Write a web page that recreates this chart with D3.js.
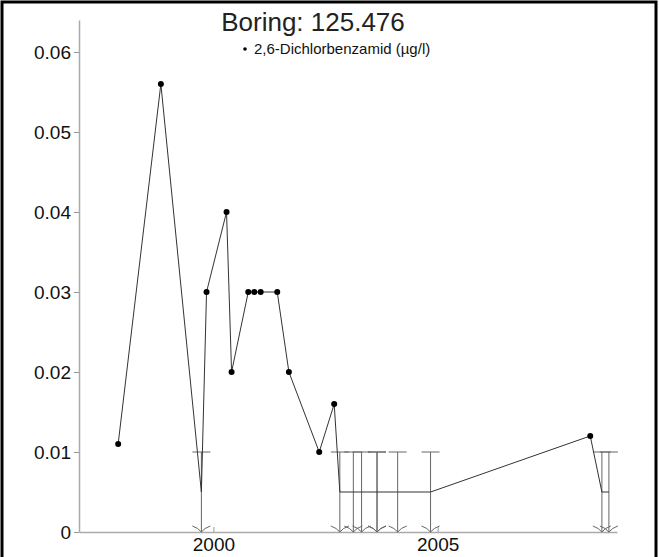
<!DOCTYPE html>
<html>
<head>
<meta charset="utf-8">
<script src="https://cdn.jsdelivr.net/npm/d3@7"></script>
<style>
body{margin:0;background:#fff;}
text{font-family:"Liberation Sans",Arial,sans-serif;}
</style>
</head>
<body>
<script>
// samples, in date order
var sampleDates=['1997-11-16','1998-10-30','1999-09-25','1999-11-06','2000-04-17','2000-05-28',
    '2000-10-11','2000-11-29','2001-01-20','2001-06-04','2001-09-07','2002-05-12','2002-09-11',
    '2002-10-27','2003-02-14','2003-04-22','2003-08-26','2003-08-26','2004-02-10','2004-11-04',
    '2008-05-28','2008-08-31','2008-10-27'];
var sampleValues=[0.011,0.056,null,0.03,0.04,0.02,
    0.03,0.03,0.03,0.03,0.02,0.01,0.016,
    null,null,null,null,null,null,null,
    0.012,null,null];
// null = below detection limit
var detectionLimit=0.01;
var yTicks=[0,0.01,0.02,0.03,0.04,0.05,0.06];
var yTickLabels=['0','0.01','0.02','0.03','0.04','0.05','0.06'];
var xTickYears=[2000,2005];
var titleText='Boring: 125.476';
var legendText='2,6-Dichlorbenzamid (\u00b5g/l)';

var width=659,height=557;
var parse=d3.timeParse('%Y-%m-%d');

var samples=sampleDates.map(function(d,i){
    return {date:parse(d),value:sampleValues[i],below:sampleValues[i]===null};
});

var svg=d3.select('body').append('svg')
    .attr('width',width)
    .attr('height',height);

svg.append('rect')
    .attr('x',2).attr('y',2)
    .attr('width',654).attr('height',620)
    .style('fill','none')
    .style('stroke','#000')
    .style('stroke-width',3);

var xScale=d3.scaleTime()
    .domain([new Date(1997,0,1),new Date(2009,0,1)])
    .range([79,617]);
var yScale=d3.scaleLinear()
    .domain([0,0.064])
    .range([532,20]);

// axes
var yAxis=d3.axisLeft(yScale)
    .tickValues(yTicks)
    .tickFormat(function(d,i){return yTickLabels[i];})
    .tickSize(5)
    .tickPadding(3)
    .tickSizeOuter(0);
var gy=svg.append('g').attr('transform','translate(79,0)').call(yAxis);

var xAxis=d3.axisBottom(xScale)
    .tickValues(xTickYears.map(function(y){return new Date(y,0,1);}))
    .tickFormat(d3.timeFormat('%Y'))
    .tickSize(-5)
    .tickPadding(8)
    .tickSizeOuter(0);
var gx=svg.append('g').attr('transform','translate(0,532)').call(xAxis);

[gx,gy].forEach(function(g){
    g.select('.domain').style('stroke','#aaa').style('stroke-width',1.5);
    g.selectAll('.tick line').style('stroke','#999');
    g.selectAll('.tick text').style('font-size','19px').style('fill','#111').style('font-family','"Liberation Sans",Arial,sans-serif');
});
gx.selectAll('.tick text').attr('y',6).attr('dy','0.71em');

// censored samples: bar from detection limit down to 0 with arrow
var cens=svg.append('g').selectAll('g')
    .data(samples.filter(function(d){return d.below;}))
    .enter().append('g')
    .style('fill','none')
    .style('stroke','#666')
    .style('stroke-width',1);
cens.append('line')
    .attr('x1',function(d){return xScale(d.date);})
    .attr('x2',function(d){return xScale(d.date);})
    .attr('y1',yScale(detectionLimit))
    .attr('y2',yScale(0));
cens.append('line')
    .attr('x1',function(d){return xScale(d.date)-9;})
    .attr('x2',function(d){return xScale(d.date)+9;})
    .attr('y1',yScale(detectionLimit))
    .attr('y2',yScale(detectionLimit));
cens.append('path')
    .attr('d',function(d){
        var x=xScale(d.date),y=yScale(0);
        return 'M'+(x-9)+','+(y-6)+' Q'+(x-3)+','+(y-4)+' '+x+','+y+
            ' Q'+(x+3)+','+(y-4)+' '+(x+9)+','+(y-6);
    });

// data line, censored samples at half the detection limit
var line=d3.line()
    .x(function(d){return xScale(d.date);})
    .y(function(d){return yScale(d.below?detectionLimit/2:d.value);});
svg.append('path')
    .datum(samples)
    .attr('d',line)
    .style('fill','none')
    .style('stroke','#333')
    .style('stroke-width',1);

svg.append('g').selectAll('circle')
    .data(samples.filter(function(d){return !d.below;}))
    .enter().append('circle')
    .attr('cx',function(d){return xScale(d.date);})
    .attr('cy',function(d){return yScale(d.value);})
    .attr('r',3)
    .style('fill','#000');

// title and legend
svg.append('text')
    .attr('x',313).attr('y',31)
    .attr('text-anchor','middle')
    .style('font-size','26px')
    .style('fill','#222')
    .text(titleText);

svg.append('circle')
    .attr('cx',245).attr('cy',49)
    .attr('r',1.8)
    .style('fill','#000');
svg.append('text')
    .attr('x',254).attr('y',54)
    .style('font-size','15px')
    .style('fill','#111')
    .text(legendText);
</script>
</body>
</html>
